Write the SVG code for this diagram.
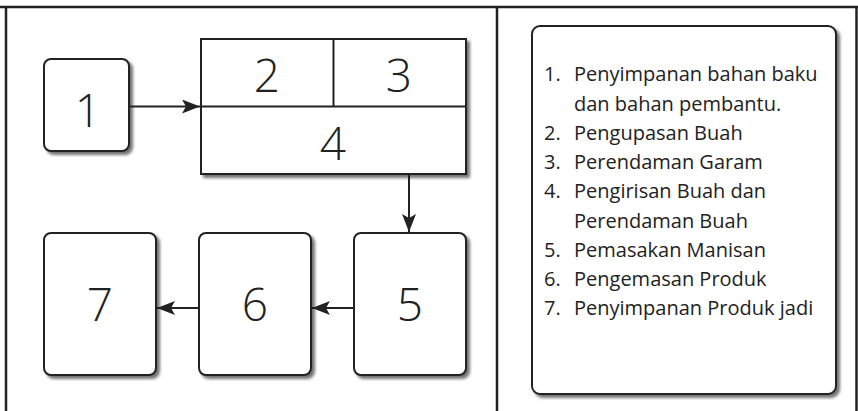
<svg xmlns="http://www.w3.org/2000/svg" width="858" height="411" viewBox="0 0 858 411">
  <defs>
    <filter id="sh" x="-10%" y="-10%" width="130%" height="130%">
      <feDropShadow dx="3" dy="3" stdDeviation="1.6" flood-color="#000" flood-opacity="0.55"/>
    </filter>
    <marker id="arr" markerUnits="userSpaceOnUse" markerWidth="20" markerHeight="14" refX="18" refY="7" orient="auto">
      <path d="M0,0 L18,7 L0,14 L4,7 Z" fill="#222"/>
    </marker>
  </defs>
  <style>
    .box { fill: #fff; stroke: #222; stroke-width: 2; }
    .frame { fill: none; stroke: #222; stroke-width: 2.5; }
    .big { font-family: "Open Sans", "DejaVu Sans", sans-serif; font-weight: 300; font-size: 46px; fill: #222; text-anchor: middle; }
    .lst { font-family: "Open Sans", "DejaVu Sans", sans-serif; font-size: 20px; fill: #222; }
    .con { stroke: #222; stroke-width: 2; fill: none; marker-end: url(#arr); }
  </style>
  <rect width="858" height="411" fill="#fff"/>
  <g id="frame">
    <line class="frame" x1="0" y1="7" x2="858" y2="7" stroke-width="3"/>
    <line class="frame" x1="6" y1="7" x2="6" y2="411"/>
    <line class="frame" x1="497" y1="7" x2="497" y2="411"/>
    <line class="frame" x1="856.5" y1="7" x2="856.5" y2="411"/>
  </g>
  <g id="node1">
    <rect class="box" x="44" y="59" width="85" height="92" rx="7" filter="url(#sh)"/>
    <text class="big" x="88" y="127">1</text>
  </g>
  <g id="node234">
    <rect class="box" x="201" y="39" width="265" height="135" filter="url(#sh)"/>
    <line x1="201" y1="106.5" x2="466" y2="106.5" stroke="#222" stroke-width="2"/>
    <line x1="333.5" y1="39" x2="333.5" y2="106.5" stroke="#222" stroke-width="2"/>
    <text class="big" x="267" y="92">2</text>
    <text class="big" x="399" y="92">3</text>
    <text class="big" x="333" y="160">4</text>
  </g>
  <g id="node5">
    <rect class="box" x="354" y="233" width="112" height="142" rx="7" filter="url(#sh)"/>
    <text class="big" x="410" y="321">5</text>
  </g>
  <g id="node6">
    <rect class="box" x="199" y="233" width="112" height="142" rx="7" filter="url(#sh)"/>
    <text class="big" x="255" y="321">6</text>
  </g>
  <g id="node7">
    <rect class="box" x="44" y="233" width="112" height="142" rx="7" filter="url(#sh)"/>
    <text class="big" x="100" y="321">7</text>
  </g>
  <g id="connectors">
    <line class="con" x1="130" y1="106.5" x2="200" y2="106.5"/>
    <line class="con" x1="409" y1="175" x2="409" y2="232"/>
    <line class="con" x1="353" y1="308" x2="312" y2="308"/>
    <line class="con" x1="198" y1="308" x2="157" y2="308"/>
  </g>
  <g id="legend">
    <rect class="box" x="532" y="26" width="304" height="368" rx="8" filter="url(#sh)"/>
    <text class="lst" x="544" y="81">1.</text>
    <text class="lst" x="574" y="81">Penyimpanan bahan baku</text>
    <text class="lst" x="574" y="110.5">dan bahan pembantu.</text>
    <text class="lst" x="544" y="140">2.</text>
    <text class="lst" x="574" y="140">Pengupasan Buah</text>
    <text class="lst" x="544" y="169">3.</text>
    <text class="lst" x="574" y="169">Perendaman Garam</text>
    <text class="lst" x="544" y="198">4.</text>
    <text class="lst" x="574" y="198">Pengirisan Buah dan</text>
    <text class="lst" x="574" y="228">Perendaman Buah</text>
    <text class="lst" x="544" y="257">5.</text>
    <text class="lst" x="574" y="257">Pemasakan Manisan</text>
    <text class="lst" x="544" y="286">6.</text>
    <text class="lst" x="574" y="286">Pengemasan Produk</text>
    <text class="lst" x="544" y="315">7.</text>
    <text class="lst" x="574" y="315">Penyimpanan Produk jadi</text>
  </g>
</svg>
